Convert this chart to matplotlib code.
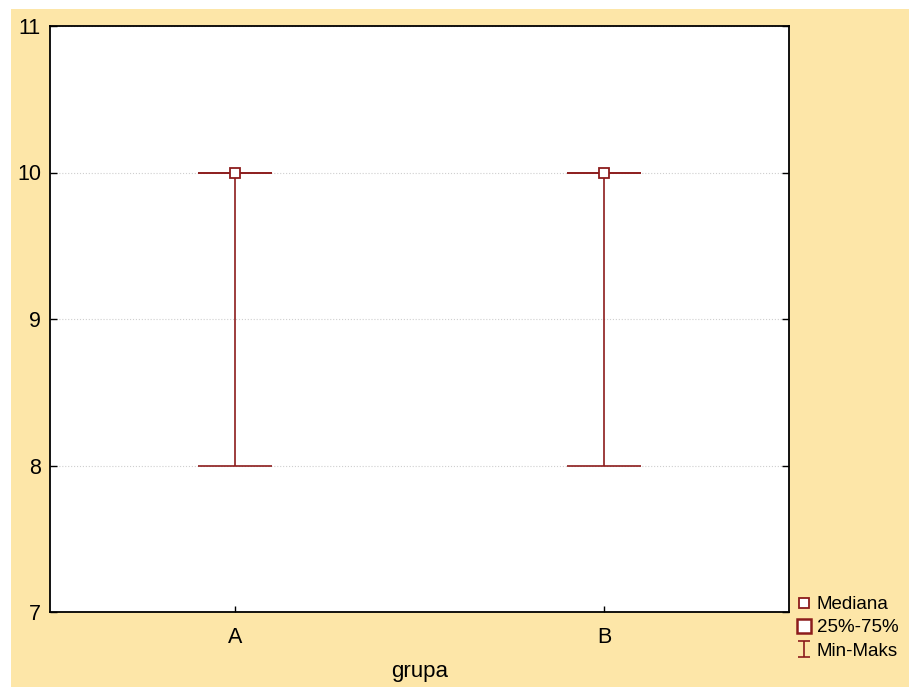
import matplotlib
matplotlib.use('Agg')
import matplotlib.pyplot as plt
from matplotlib.patches import Rectangle
from matplotlib.lines import Line2D
from matplotlib.path import Path

# group statistics
groups = ['A', 'B']
mediana = [10, 10]
q25 = [10, 10]
q75 = [10, 10]
minimum = [8, 8]
maksimum = [10, 10]

red = '#8c1c1c'
plt.rcParams['font.family'] = ['Liberation Sans', 'DejaVu Sans']

fig = plt.figure(figsize=(9.09, 6.87), dpi=100)
fig.patch.set_facecolor('white')
# yellow page background, white strip on the top and left
fig.patches.append(Rectangle((11 / 909, 0), 1 - 11 / 909, (687 - 9) / 687,
                             transform=fig.transFigure, facecolor='#fde6a8',
                             edgecolor='none', zorder=-10))

ax = fig.add_axes([50 / 909, 1 - 612 / 687, 739 / 909, 586 / 687])
ax.set_facecolor('white')

x = list(range(1, len(groups) + 1))
cap = 0.1
box = 0.1

# whiskers min-max
ax.vlines(x, minimum, maksimum, color=red, lw=1.2, zorder=3)
ax.hlines(minimum, [i - cap for i in x], [i + cap for i in x], color=red, lw=1.2, zorder=3)
ax.hlines(maksimum, [i - cap for i in x], [i + cap for i in x], color=red, lw=1.2, zorder=3)
# 25%-75% boxes
for i, lo, hi in zip(x, q25, q75):
    ax.add_patch(Rectangle((i - box, lo), 2 * box, hi - lo, facecolor='white',
                           edgecolor=red, lw=1.2, zorder=4))
# median
ax.plot(x, mediana, ls='none', marker='s', ms=7, mfc='white', mec=red, mew=1.3, zorder=5)

ax.set_xlim(0.5, 2.5)
ax.set_ylim(7, 11)
ax.set_xticks(x)
ax.set_xticklabels(groups)
ax.set_yticks([7, 8, 9, 10, 11])
ax.tick_params(axis='y', direction='in', length=5, width=1, right=True, labelsize=15.5, pad=6.5)
ax.tick_params(axis='x', direction='in', length=4, width=1, labelsize=15.5, pad=11)
ax.yaxis.grid(True, ls=':', color='#cfcfcf', lw=0.8)
ax.set_axisbelow(True)
for s in ax.spines.values():
    s.set_linewidth(1.3)
ax.set_xlabel('grupa', fontsize=16, labelpad=9)

# I-shaped marker for the min-max entry
ibar = Path([(-0.7, 1), (0.7, 1), (0, 1), (0, -1), (-0.7, -1), (0.7, -1)],
            [Path.MOVETO, Path.LINETO, Path.MOVETO, Path.LINETO, Path.MOVETO, Path.LINETO])
handles = [
    Line2D([], [], ls='none', marker='s', ms=6.5, mfc='white', mec=red, mew=1.3),
    Line2D([], [], ls='none', marker='s', ms=10.5, mfc='white', mec=red, mew=1.8),
    Line2D([], [], ls='none', marker=ibar, ms=12, mfc='none', mec=red, mew=1.2),
]
fig.legend(handles, ['Mediana', '25%-75%', 'Min-Maks'], loc='upper left',
           bbox_to_anchor=(781 / 909, 1 - 583 / 687), frameon=False, fontsize=13.5,
           handlelength=1.0, handletextpad=0.2, labelspacing=0.32, borderpad=0.2)

fig.savefig('out.png', dpi=100)
